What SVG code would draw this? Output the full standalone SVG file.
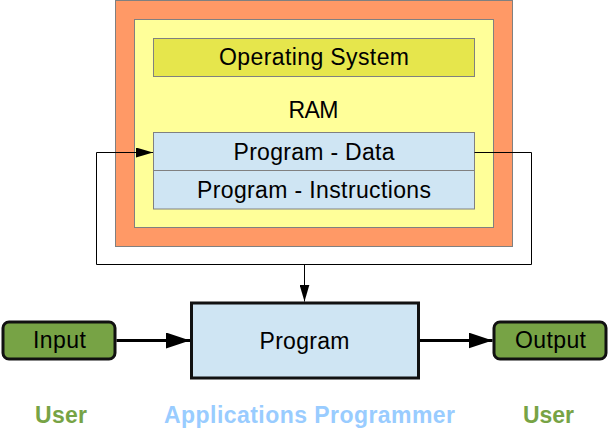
<svg xmlns="http://www.w3.org/2000/svg" width="609" height="435" viewBox="0 0 609 435">
<style>
text{font-family:"Liberation Sans",Arial,sans-serif;font-size:23px;fill:#000;text-anchor:middle}
.b{font-weight:bold}
.mem{stroke:#808080;stroke-width:1}
.io{fill:#77a345;stroke:#111;stroke-width:3}
.thin{fill:none;stroke:#000;stroke-width:1}
.thick{fill:none;stroke:#000;stroke-width:3}
</style>
<defs>
<marker id="ah" viewBox="0 0 17 10" refX="17" refY="5" markerWidth="17" markerHeight="10" markerUnits="userSpaceOnUse" orient="auto"><path d="M0,0L17,5L0,10z" fill="#000"/></marker>
<marker id="ahb" viewBox="0 0 24 16" refX="24" refY="8" markerWidth="24" markerHeight="16" markerUnits="userSpaceOnUse" orient="auto"><path d="M0,0L24,8L0,16z" fill="#000"/></marker>
</defs>
<rect width="609" height="435" fill="#fff"/>
<g id="ram-outer"><rect class="mem" x="115.5" y="0.5" width="397" height="246" fill="#ff9966"/></g>
<g id="ram"><rect class="mem" x="134.5" y="19.5" width="359" height="208" fill="#ffff99"/>
<text x="313.5" y="117.5" textLength="50">RAM</text></g>
<g id="os"><rect class="mem" x="153.5" y="38.5" width="321" height="38" fill="#e6e64c"/>
<text x="314" y="64.5" textLength="190">Operating System</text></g>
<g id="prog-data"><rect class="mem" x="153.5" y="132.5" width="321" height="38" fill="#cfe5f3"/>
<text x="314" y="159.5" textLength="161">Program - Data</text></g>
<g id="prog-instr"><rect class="mem" x="153.5" y="170.5" width="321" height="38.5" fill="#cfe5f3"/>
<text x="314" y="197.5" textLength="234">Program - Instructions</text></g>
<g id="input"><rect class="io" x="3" y="322" width="112" height="37" rx="6"/>
<text x="59.5" y="347.5" textLength="53">Input</text></g>
<g id="program"><rect x="191.5" y="303" width="227" height="75" fill="#cfe5f3" stroke="#111" stroke-width="3"/>
<text x="304.5" y="348.5" textLength="90">Program</text></g>
<g id="output"><rect class="io" x="494" y="322" width="112" height="37" rx="6"/>
<text x="550.5" y="347.5" textLength="71">Output</text></g>
<g id="labels">
<text class="b" x="61" y="423" textLength="52" fill="#77a345" style="fill:#77a345">User</text>
<text class="b" x="309.5" y="423" textLength="291" style="fill:#99ccff">Applications Programmer</text>
<text class="b" x="548.5" y="423" textLength="51" style="fill:#77a345">User</text>
</g>
<g id="connectors">
<path class="thin" d="M474.5,152.5H531.5V264.5H96.5V152.5H153" marker-end="url(#ah)"/>
<path class="thin" d="M304.5,264.5V301.5" marker-end="url(#ah)"/>
<path class="thick" d="M116.5,340.5H190" marker-end="url(#ahb)"/>
<path class="thick" d="M420,340.5H492.5" marker-end="url(#ahb)"/>
</g>
</svg>
